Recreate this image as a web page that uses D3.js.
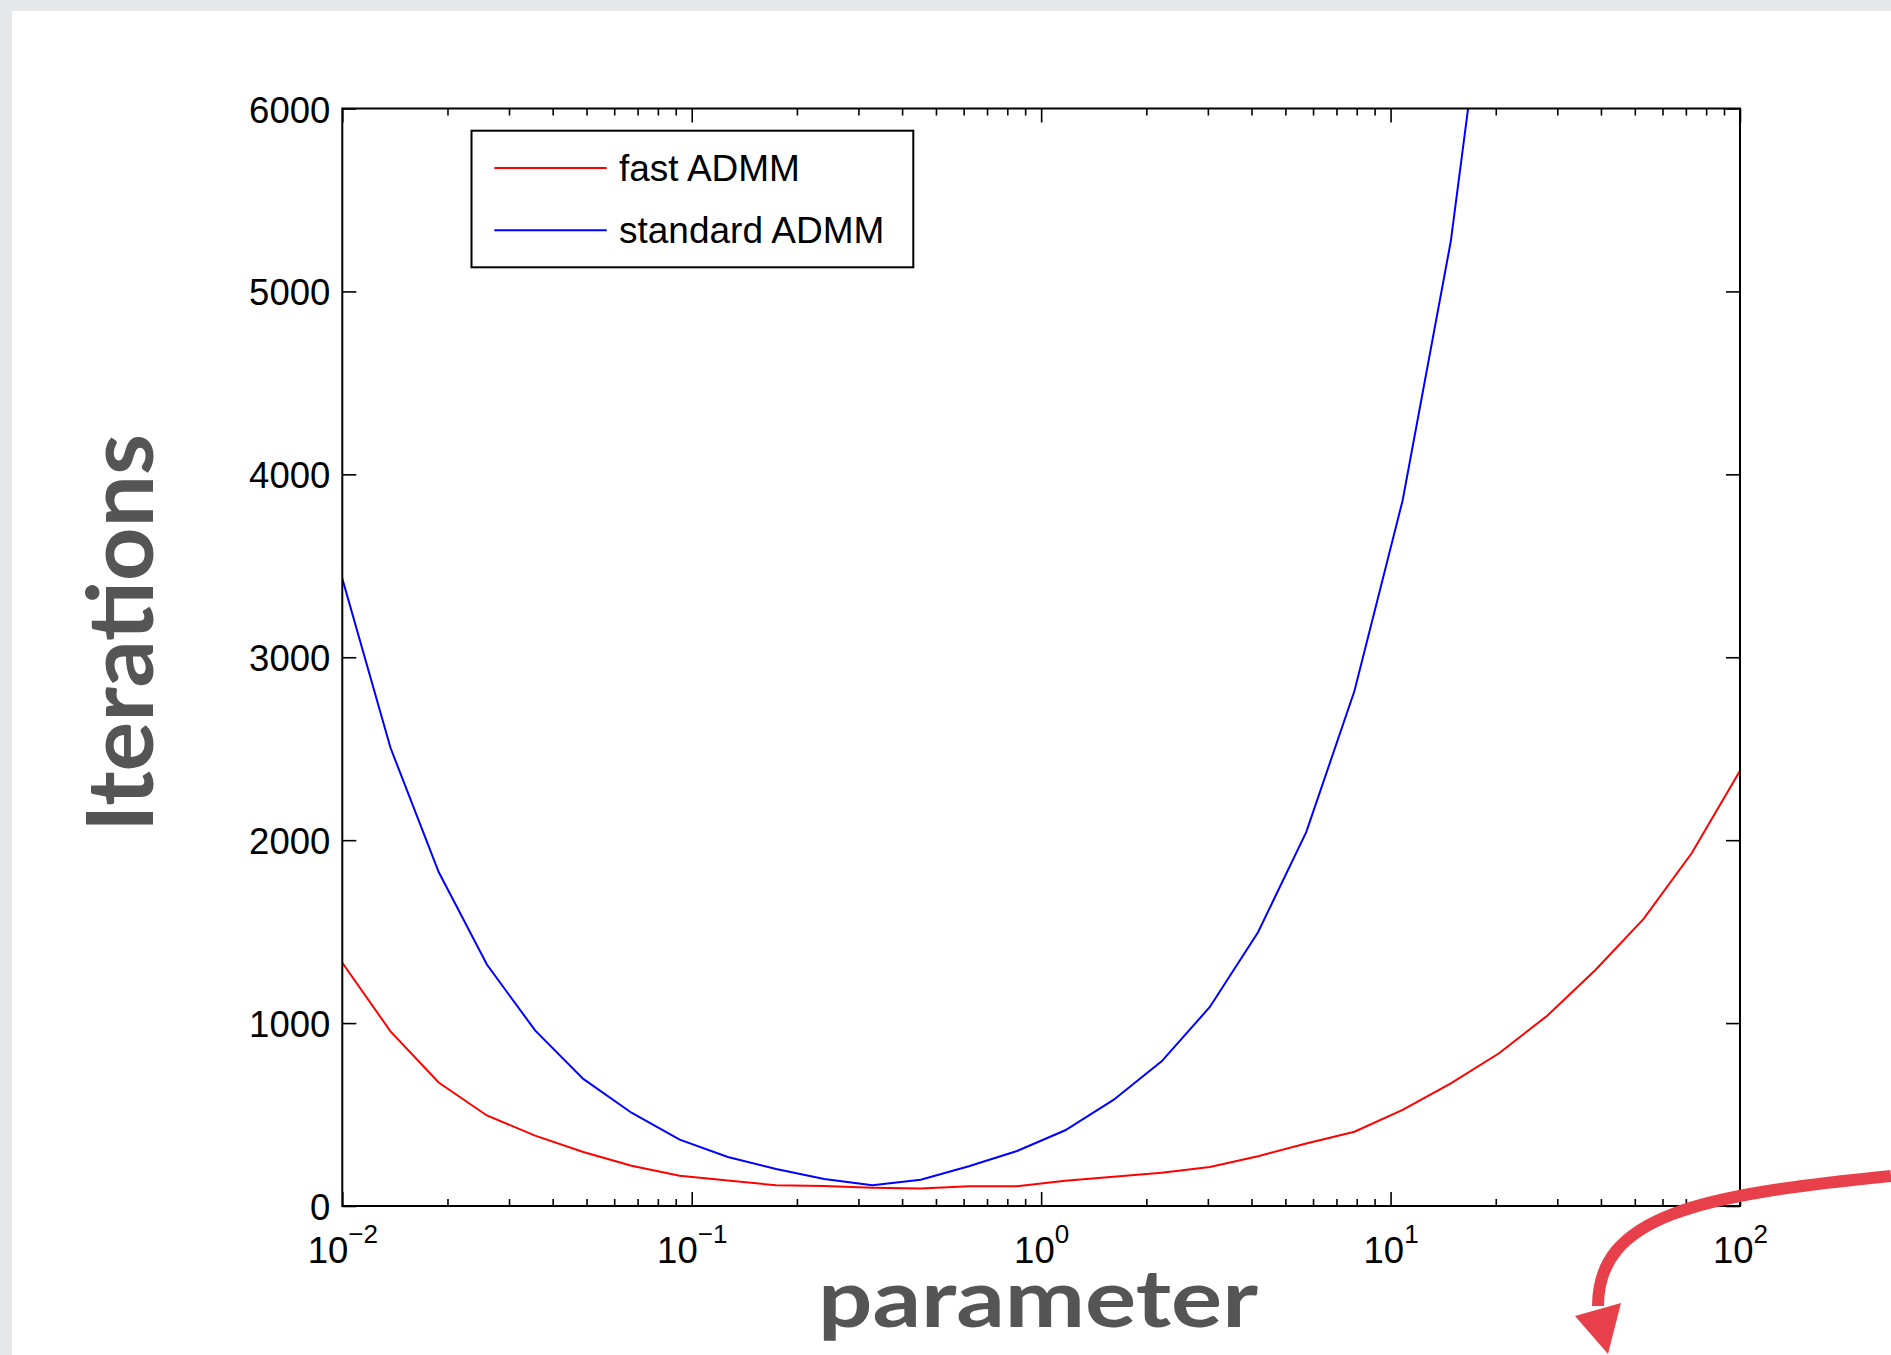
<!DOCTYPE html>
<html>
<head>
<meta charset="utf-8">
<script src="https://cdn.jsdelivr.net/npm/d3@7"></script>
<style>
  body { margin: 0; background: #e5e7ea; }
  svg { display: block; }
  .tick text { font-family: "Liberation Sans", Arial, sans-serif; font-size: 36.5px; fill: #000; }
  .tick line { stroke: #000; stroke-width: 1.6; }
  .title { font-family: Lato, "Open Sans", sans-serif; font-weight: 700; fill: #555555; }
  .legend text { font-family: "Liberation Sans", Arial, sans-serif; font-size: 37px; fill: #000; }
</style>
</head>
<body>
<div id="chartArea"></div>
<script>
// parameter values (30 points, log spaced 1e-2 .. 1e2)
const params = [0.01, 0.013738, 0.018874, 0.025929, 0.035622, 0.048939, 0.067234, 0.092367,
    0.1269, 0.17433, 0.2395, 0.32903, 0.45204, 0.62102, 0.85317, 1.1721, 1.6103, 2.2122,
    3.0392, 4.1753, 5.7362, 7.8805, 10.826, 14.874, 20.434, 28.072, 38.566, 52.983, 72.79, 100];

// iterations
const fastADMM = [1330, 955, 675, 495, 385, 295, 220, 165, 140, 113, 110, 100, 95, 108, 108,
    138, 160, 182, 213, 272, 342, 406, 525, 670, 835, 1040, 1290, 1570, 1930, 2380];
const standardADMM = [3430, 2505, 1826, 1320, 960, 695, 510, 363, 268, 202, 148, 113, 144, 217,
    301, 414, 580, 791, 1088, 1497, 2044, 2815, 3857, 5275, 7300];

const seriesNames = ['fast ADMM', 'standard ADMM'];
const seriesColors = ['#ff0000', '#0000ff'];

const xMajor = [0.01, 0.1, 1, 10, 100];
const xExponents = ['\u22122', '\u22121', '0', '1', '2'];
const xMinor = [];
[0.01, 0.1, 1, 10].forEach(b => { for (let m = 2; m <= 9; m++) xMinor.push(b * m); });
const yTicks = [0, 1000, 2000, 3000, 4000, 5000, 6000];

function drawGraph() {
    let width = 1891, height = 1355;
    let plot = { left: 342.3, right: 1740, top: 108.5, bottom: 1206 };

    let svg = d3.select('#chartArea').append('svg')
        .attr('width', width)
        .attr('height', height);

    // white slide background
    svg.append('rect')
        .attr('x', 12).attr('y', 11)
        .attr('width', width - 12).attr('height', height - 11)
        .attr('fill', '#fff');

    let xScale = d3.scaleLog().domain([0.01, 100]).range([plot.left, plot.right]);
    let yScale = d3.scaleLinear().domain([0, 6000]).range([plot.bottom, plot.top]);

    svg.append('clipPath').attr('id', 'plotClip')
        .append('rect')
        .attr('x', plot.left).attr('y', plot.top)
        .attr('width', plot.right - plot.left).attr('height', plot.bottom - plot.top);

    // bottom axis, major ticks with labels
    let xAxis = svg.append('g')
        .attr('transform', 'translate(0,' + plot.bottom + ')')
        .call(d3.axisBottom(xScale).tickValues(xMajor).tickSizeInner(-14).tickSizeOuter(0).tickFormat(''));
    xAxis.selectAll('.tick text').each(function (d, i) {
        let t = d3.select(this).attr('y', 56.7).attr('dy', 0);
        t.append('tspan').text('10');
        t.append('tspan').attr('dy', -19.5).style('font-size', '26px').text(xExponents[i]);
    });
    svg.append('g')
        .attr('transform', 'translate(0,' + plot.bottom + ')')
        .call(d3.axisBottom(xScale).tickValues(xMinor).tickSizeInner(-7).tickSizeOuter(0).tickFormat(''));

    // top axis (mirror)
    svg.append('g')
        .attr('transform', 'translate(0,' + plot.top + ')')
        .call(d3.axisTop(xScale).tickValues(xMajor).tickSizeInner(-14).tickSizeOuter(0).tickFormat(''));
    svg.append('g')
        .attr('transform', 'translate(0,' + plot.top + ')')
        .call(d3.axisTop(xScale).tickValues(xMinor).tickSizeInner(-7).tickSizeOuter(0).tickFormat(''));

    // left and right axes
    let yAxis = svg.append('g')
        .attr('transform', 'translate(' + plot.left + ',0)')
        .call(d3.axisLeft(yScale).tickValues(yTicks).tickSizeInner(-14).tickSizeOuter(0).tickFormat(d3.format('d')));
    yAxis.selectAll('.tick text').attr('x', -12).attr('dy', 13.5);
    svg.append('g')
        .attr('transform', 'translate(' + plot.right + ',0)')
        .call(d3.axisRight(yScale).tickValues(yTicks).tickSizeInner(-14).tickSizeOuter(0).tickFormat(''));

    svg.selectAll('.domain').remove();

    // data lines
    let line = d3.line()
        .x(d => xScale(d[0]))
        .y(d => yScale(d[1]));

    [fastADMM, standardADMM].forEach((vals, i) => {
        svg.append('path')
            .attr('clip-path', 'url(#plotClip)')
            .attr('d', line(vals.map((v, j) => [params[j], v])))
            .attr('fill', 'none')
            .attr('stroke', seriesColors[i])
            .attr('stroke-width', 2);
    });

    // frame
    svg.append('rect')
        .attr('x', plot.left).attr('y', plot.top)
        .attr('width', plot.right - plot.left).attr('height', plot.bottom - plot.top)
        .attr('fill', 'none').attr('stroke', '#000').attr('stroke-width', 2);

    // legend
    let legend = svg.append('g').attr('class', 'legend');
    legend.append('rect')
        .attr('x', 471.5).attr('y', 130.7).attr('width', 441.8).attr('height', 136.6)
        .attr('fill', '#fff').attr('stroke', '#000').attr('stroke-width', 2);
    seriesNames.forEach((name, i) => {
        let ly = 168 + i * 62.3;
        legend.append('line')
            .attr('x1', 494.3).attr('x2', 606.7).attr('y1', ly).attr('y2', ly)
            .attr('stroke', seriesColors[i]).attr('stroke-width', 2);
        legend.append('text')
            .attr('x', 619).attr('y', ly + 13)
            .text(name);
    });

    // axis titles
    svg.append('text')
        .attr('class', 'title')
        .attr('transform', 'translate(153,633) rotate(-90)')
        .attr('text-anchor', 'middle')
        .attr('font-size', 92)
        .attr('textLength', 398).attr('lengthAdjust', 'spacingAndGlyphs')
        .text('Iterations');

    svg.append('text')
        .attr('class', 'title')
        .attr('x', 1038).attr('y', 1327)
        .attr('text-anchor', 'middle')
        .attr('font-size', 80)
        .attr('textLength', 440).attr('lengthAdjust', 'spacingAndGlyphs')
        .text('parameter');

    // slide annotation arrow
    svg.append('path')
        .attr('d', 'M1891,1176 C1700,1195 1598,1215 1598,1306')
        .attr('fill', 'none').attr('stroke', '#e8404a').attr('stroke-width', 12);
    svg.append('path')
        .attr('d', 'M1608,1354 L1575,1316 L1621,1303 Z')
        .attr('fill', '#e8404a');
}

drawGraph();
</script>
</body>
</html>
